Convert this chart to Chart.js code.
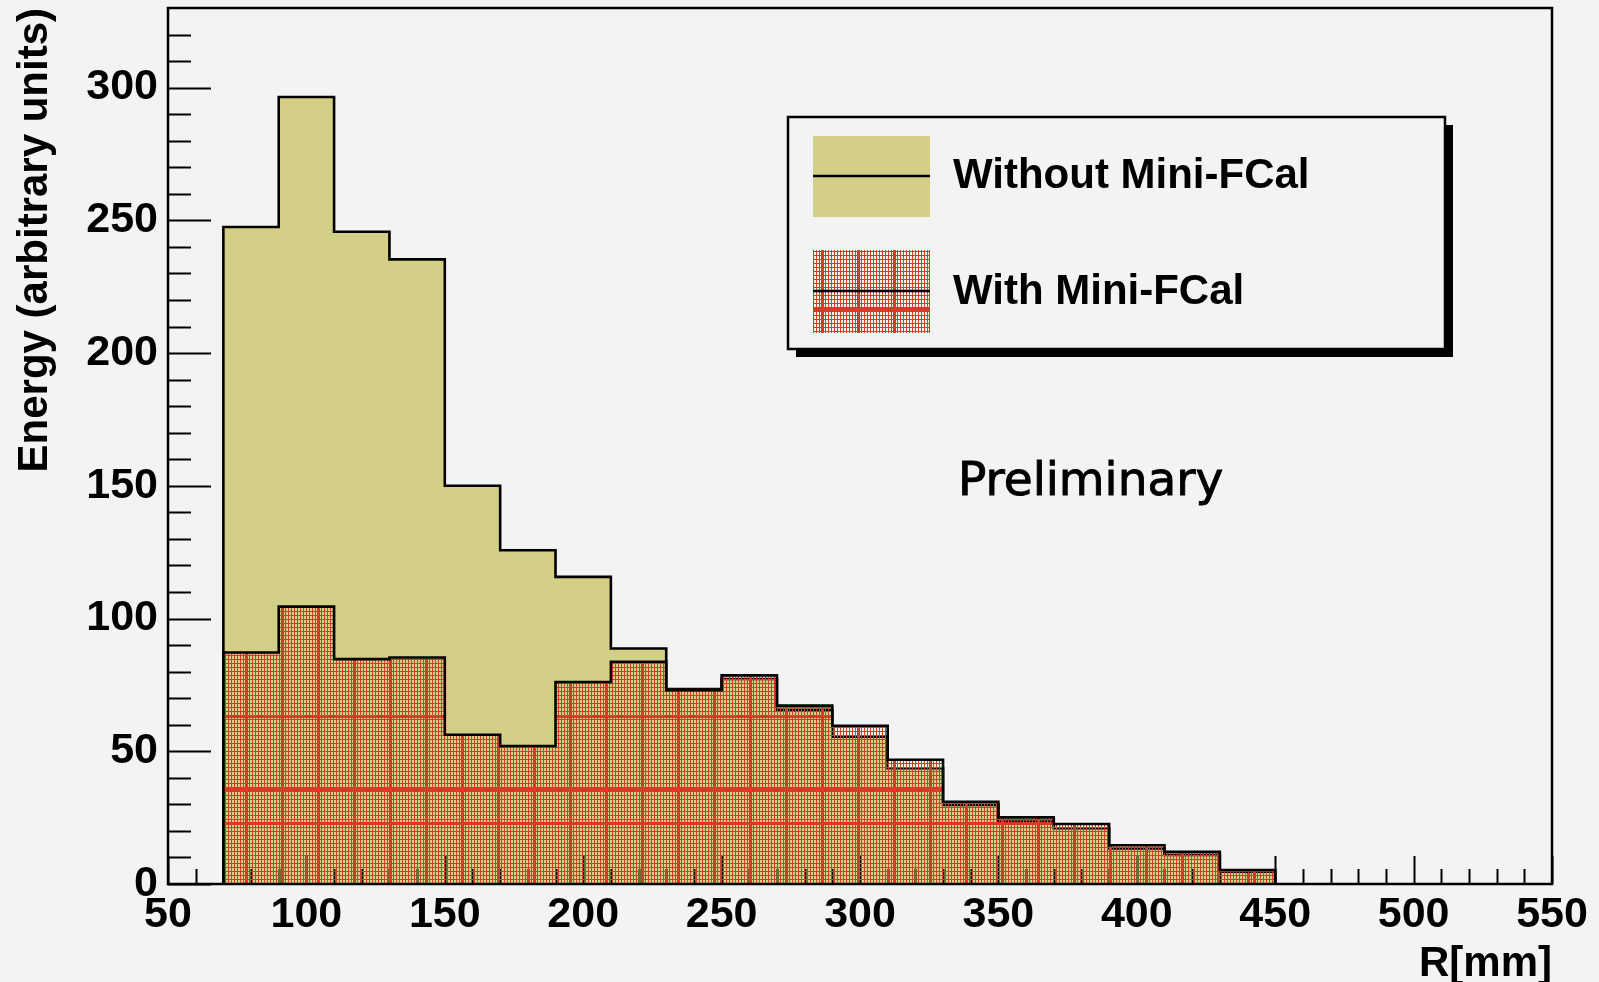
<!DOCTYPE html>
<html>
<head>
<meta charset="utf-8">
<title>Energy vs R</title>
<script src="https://cdn.jsdelivr.net/npm/chart.js@4.4.1/dist/chart.umd.min.js"></script>
<style>
  html, body { margin: 0; padding: 0; background: #f3f3f3; }
  #wrap { width: 1599px; height: 982px; }
</style>
</head>
<body>
<div id="wrap"><canvas id="c" width="1599" height="982"></canvas></div>
<script>
// ---- data: energy per 20 mm radial bin ----
const rEdges = [70, 90, 110, 130, 150, 170, 190, 210, 230, 250, 270,
                290, 310, 330, 350, 370, 390, 410, 430, 450];
const withoutFCal = [247.5, 296.5, 245.7, 235.3, 150.0, 125.7, 115.7, 88.7, 73.4, 77.2,
                     65.6, 55.5, 43.6, 29.8, 23.5, 21.0, 13.4, 10.9, 4.6];
const withFCal    = [87.2, 104.5, 84.7, 85.3, 56.2, 52.0, 76.1, 83.7, 73.0, 78.6,
                     67.2, 59.6, 46.8, 31.0, 25.1, 22.6, 14.6, 12.1, 5.3];
const seriesNames = ['Without Mini-FCal', 'With Mini-FCal'];
const xTicks = [50, 100, 150, 200, 250, 300, 350, 400, 450, 500, 550];
const yTicks = [0, 50, 100, 150, 200, 250, 300];

const FONT = "'Liberation Sans', Arial, Helvetica, sans-serif";
const BG = '#f3f3f3';
const YELLOW = '#d4cf87';
const RED = '#d83a28';

Chart.defaults.font.family = FONT;
Chart.defaults.color = '#000';

const canvas = document.getElementById('c');
const ctx0 = canvas.getContext('2d');

// red mesh fill with see-through holes (plus coarse red lines)
function makeMesh() {
  const t = document.createElement('canvas');
  t.width = 36; t.height = 240;
  const g = t.getContext('2d');
  g.fillStyle = RED;
  g.fillRect(0, 0, 36, 240);
  for (let yy = 0; yy < 240; yy += 4) {
    for (let xx = 0; xx < 36; xx += 3) g.clearRect(xx + 1, yy, 2, 3);
  }
  g.fillRect(29, 0, 3, 240);
  [68, 102, 235].forEach(r => g.fillRect(0, r, 36, 3));
  return ctx0.createPattern(t, 'repeat');
}
const mesh = makeMesh();

// step outline of a histogram from its bin contents
function histPoints(vals) {
  const n = vals.length;
  const pts = [{ x: rEdges[0], y: 0 }];
  vals.forEach((v, i) => pts.push({ x: rEdges[i], y: v }));
  pts.push({ x: rEdges[n], y: vals[n - 1] });
  pts.push({ x: rEdges[n], y: 0 });
  return pts;
}

const bgPlugin = {
  id: 'bg',
  beforeDraw(chart) {
    const c = chart.ctx;
    c.save();
    c.fillStyle = BG;
    c.fillRect(0, 0, chart.width, chart.height);
    c.restore();
  }
};

// inward tick marks, drawn between the two histograms
const insideTicks = {
  id: 'insideTicks',
  afterDatasetDraw(chart, args) {
    if (args.index !== 0) return;
    const { ctx, chartArea: a, scales: { x, y } } = chart;
    ctx.save();
    ctx.strokeStyle = '#000';
    ctx.lineWidth = 2;
    ctx.beginPath();
    for (let v = 50; v <= 550; v += 10) {
      const px = Math.round(x.getPixelForValue(v)) + 0.5;
      const len = v % 50 === 0 ? 28 : 15;
      ctx.moveTo(px, a.bottom);
      ctx.lineTo(px, a.bottom - len);
    }
    for (let v = 0; v < 330; v += 10) {
      const py = Math.round(y.getPixelForValue(v)) + 0.5;
      const len = v % 50 === 0 ? 43 : 23;
      ctx.moveTo(a.left, py);
      ctx.lineTo(a.left + len, py);
    }
    ctx.stroke();
    ctx.restore();
  }
};

// frame, legend box and label
const overlay = {
  id: 'overlay',
  afterDatasetsDraw(chart) {
    const { ctx, chartArea: a } = chart;
    ctx.save();
    ctx.strokeStyle = '#000';
    ctx.lineWidth = 2.5;
    ctx.strokeRect(a.left, a.top, a.right - a.left, a.bottom - a.top);

    // legend
    const L = { x: 788, y: 117, w: 657, h: 232 };
    ctx.fillStyle = '#000';
    ctx.fillRect(L.x + 8, L.y + 8, L.w, L.h);
    ctx.fillStyle = BG;
    ctx.fillRect(L.x, L.y, L.w, L.h);
    ctx.strokeRect(L.x, L.y, L.w, L.h);

    ctx.fillStyle = YELLOW;
    ctx.fillRect(813, 136, 117, 81);
    ctx.fillStyle = mesh;
    ctx.fillRect(813, 250, 117, 83);
    ctx.beginPath();
    ctx.moveTo(813, 176); ctx.lineTo(930, 176);
    ctx.moveTo(813, 291); ctx.lineTo(930, 291);
    ctx.stroke();

    ctx.fillStyle = '#000';
    ctx.font = 'bold 42px ' + FONT;
    ctx.textBaseline = 'middle';
    ctx.textAlign = 'left';
    ctx.fillText(seriesNames[0], 953, 176);
    ctx.fillText(seriesNames[1], 953, 292);

    ctx.font = "47px 'DejaVu Sans', sans-serif";
    ctx.textBaseline = 'alphabetic';
    ctx.lineWidth = 0.9;
    ctx.fillText('Preliminary', 958, 495);
    ctx.strokeText('Preliminary', 958, 495);
    ctx.restore();
  }
};

const tickFont = { family: FONT, size: 43, weight: 'bold' };

new Chart(canvas, {
  type: 'line',
  data: {
    datasets: [
      {
        label: seriesNames[0],
        data: histPoints(withoutFCal),
        stepped: 'before',
        borderColor: '#000',
        borderWidth: 2.6,
        backgroundColor: YELLOW,
        fill: 'origin',
        pointRadius: 0,
        order: 2
      },
      {
        label: seriesNames[1],
        data: histPoints(withFCal),
        stepped: 'before',
        borderColor: '#000',
        borderWidth: 2.6,
        backgroundColor: mesh,
        fill: 'origin',
        pointRadius: 0,
        order: 1
      }
    ]
  },
  options: {
    responsive: false,
    animation: false,
    devicePixelRatio: 1,
    layout: { padding: { left: 0, top: 8, right: 47, bottom: 0 } },
    plugins: { legend: { display: false }, tooltip: { enabled: false } },
    scales: {
      x: {
        type: 'linear',
        min: 50, max: 550,
        afterBuildTicks: s => { s.ticks = xTicks.map(v => ({ value: v })); },
        afterFit: s => { s.height = 98; s.paddingLeft = 0; s.paddingRight = 0; },
        grid: { display: false, drawTicks: false },
        border: { display: false },
        ticks: { font: tickFont, color: '#000', padding: 5, maxRotation: 0, autoSkip: false },
        title: {
          display: true, text: 'R[mm]', align: 'end', color: '#000',
          font: { family: FONT, size: 42, weight: 'bold', lineHeight: 1 },
          padding: { top: 0, bottom: -3 }
        }
      },
      y: {
        type: 'linear',
        min: 0, max: 330,
        afterBuildTicks: s => { s.ticks = yTicks.map(v => ({ value: v })); },
        afterFit: s => { s.width = 168; s.paddingTop = 0; s.paddingBottom = 0; },
        grid: { display: false, drawTicks: false },
        border: { display: false },
        ticks: { font: tickFont, color: '#000', padding: 10, autoSkip: false },
        title: {
          display: true, text: 'Energy (arbitrary units)', align: 'end', color: '#000',
          font: { family: FONT, size: 42, weight: 'bold', lineHeight: 1 },
          padding: { top: 14, bottom: 0 }
        }
      }
    }
  },
  plugins: [bgPlugin, insideTicks, overlay]
});
</script>
</body>
</html>
